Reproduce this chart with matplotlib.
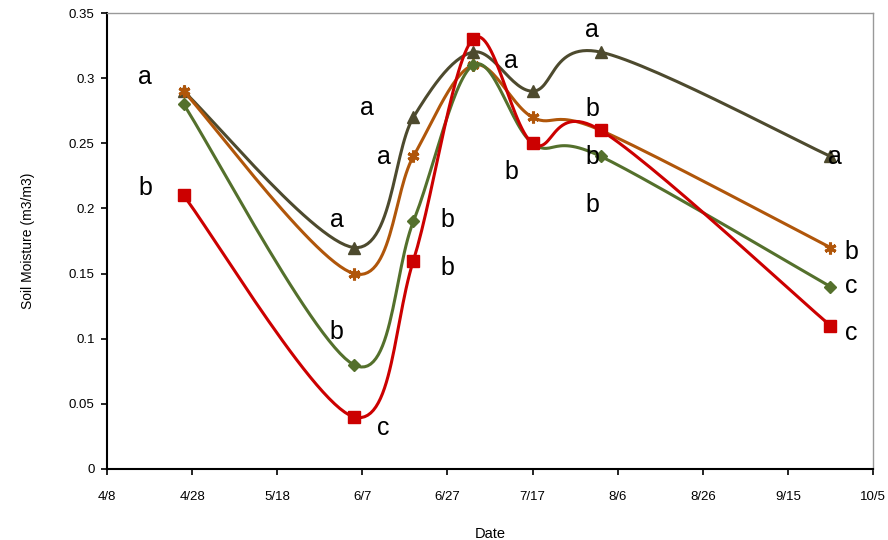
import numpy as np
import pandas as pd
import matplotlib
matplotlib.use("Agg")
import matplotlib.pyplot as plt
import matplotlib.dates as mdates

plt.rcParams['font.family'] = ['Liberation Sans', 'DejaVu Sans']

# sample dates and soil moisture (m3/m3) per treatment
dates = ['2010-04-26', '2010-06-05', '2010-06-19', '2010-07-03',
         '2010-07-17', '2010-08-02', '2010-09-25']
s_dark = [0.29, 0.17, 0.27, 0.32, 0.29, 0.32, 0.24]
s_orange = [0.29, 0.15, 0.24, 0.31, 0.27, 0.26, 0.17]
s_green = [0.28, 0.08, 0.19, 0.31, 0.25, 0.24, 0.14]
s_red = [0.21, 0.04, 0.16, 0.33, 0.25, 0.26, 0.11]

tick_dates = ['2010-04-08', '2010-04-28', '2010-05-18', '2010-06-07', '2010-06-27',
              '2010-07-17', '2010-08-06', '2010-08-26', '2010-09-15', '2010-10-05']
tick_labels = ['4/8', '4/28', '5/18', '6/7', '6/27', '7/17', '8/6', '8/26', '9/15', '10/5']

# significance letters (letter, date, y)
letters = [('a', '2010-04-17', 0.301), ('b', '2010-04-17', 0.216),
           ('a', '2010-06-08', 0.277), ('a', '2010-06-12', 0.2395),
           ('a', '2010-06-01', 0.191), ('b', '2010-06-01', 0.105),
           ('c', '2010-06-12', 0.0315), ('b', '2010-06-27', 0.191),
           ('b', '2010-06-27', 0.154), ('a', '2010-07-12', 0.313),
           ('b', '2010-07-12', 0.228), ('a', '2010-07-31', 0.337),
           ('b', '2010-07-31', 0.276), ('b', '2010-07-31', 0.2395),
           ('b', '2010-07-31', 0.2026), ('a', '2010-09-26', 0.2395),
           ('b', '2010-09-30', 0.1666), ('c', '2010-09-30', 0.1405),
           ('c', '2010-09-30', 0.1044)]


def smooth(x, y, n=30):
    # excel-like smoothed line (bezier with 1/6 neighbour tangents)
    x = np.asarray(x, float)
    y = np.asarray(y, float)
    px = np.concatenate([[x[0]], x, [x[-1]]])
    py = np.concatenate([[y[0]], y, [y[-1]]])
    xs, ys = [], []
    t = np.linspace(0, 1, n)
    for i in range(len(x) - 1):
        p0 = np.array([x[i], y[i]])
        p3 = np.array([x[i + 1], y[i + 1]])
        p1 = p0 + (np.array([px[i + 2], py[i + 2]]) - np.array([px[i], py[i]])) / 6
        p2 = p3 - (np.array([px[i + 3], py[i + 3]]) - np.array([px[i + 1], py[i + 1]])) / 6
        b = ((1 - t) ** 3)[:, None] * p0 + (3 * (1 - t) ** 2 * t)[:, None] * p1 \
            + (3 * (1 - t) * t ** 2)[:, None] * p2 + (t ** 3)[:, None] * p3
        xs.extend(b[:, 0])
        ys.extend(b[:, 1])
    return np.array(xs), np.array(ys)


x = mdates.date2num(pd.to_datetime(dates))

fig = plt.figure(figsize=(8.88, 5.4), dpi=100)
ax = fig.add_axes([0.1205, 0.1315, 0.8626, 0.8444])

series = [(s_dark, '#4D4A2E', '^', 8), (s_orange, '#B0560A', (6, 2, 0), 8.5),
          (s_green, '#54702C', 'D', 6.5), (s_red, '#CC0000', 's', 8)]
for vals, col, mk, ms in series:
    sx, sy = smooth(x, vals)
    ax.plot(sx, sy, color=col, lw=2.2, solid_capstyle='round')
    ax.plot(x, vals, ls='none', marker=mk, ms=ms, color=col,
            markeredgecolor=col, markeredgewidth=2.2 if mk == (6, 2, 0) else 1)

for lt, d, yv in letters:
    ax.text(mdates.date2num(pd.Timestamp(d)), yv, lt, fontsize=18,
            ha='center', va='center', color='black')

xt = mdates.date2num(pd.to_datetime(tick_dates))
ax.set_xlim(xt[0], xt[-1])
ax.set_xticks(xt)
ax.set_xticklabels(tick_labels, fontsize=9.5)
ax.set_ylim(0, 0.35)
ax.set_yticks(np.arange(0, 0.351, 0.05))
ax.set_yticklabels(['0', '0.05', '0.1', '0.15', '0.2', '0.25', '0.3', '0.35'], fontsize=9.5)
ax.tick_params(direction='out', length=4, width=1.2, pad=12)
ax.tick_params(axis='y', pad=5)

for s in ['left', 'bottom']:
    ax.spines[s].set_linewidth(1.5)
    ax.spines[s].set_color('black')
for s in ['top', 'right']:
    ax.spines[s].set_linewidth(1)
    ax.spines[s].set_color('#999999')

ax.set_xlabel('Date', fontsize=10.5, labelpad=17)
ax.set_ylabel('Soil Moisture (m3/m3)', fontsize=10, labelpad=24)

fig.savefig('out.png', dpi=100)
